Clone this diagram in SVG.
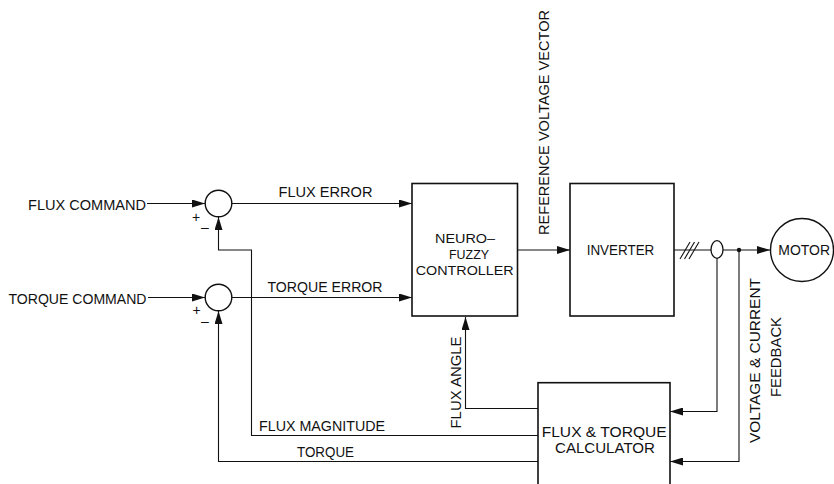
<svg xmlns="http://www.w3.org/2000/svg" width="834" height="484" viewBox="0 0 834 484">
<style>
  text { font-family: "Liberation Sans", Arial, sans-serif; font-size: 15px; fill: #111; }
  .sign { font-size: 14px; text-anchor: middle; }
  .ctl { font-size: 13px; }
  .box { fill: #fff; stroke: #111; stroke-width: 1.6; }
  .sum { fill: #fff; stroke: #111; stroke-width: 1.4; }
  .wire { fill: none; stroke: #111; stroke-width: 1.1; }
  .arr { fill: none; stroke: #111; stroke-width: 1.1; marker-end: url(#ah); }
</style>
<defs>
  <marker id="ah" viewBox="0 0 13 8" refX="13" refY="4" markerWidth="13" markerHeight="8" markerUnits="userSpaceOnUse" orient="auto">
    <path d="M0,0 L13,4 L0,8 Z" fill="#111"/>
  </marker>
</defs>

<rect width="834" height="484" fill="#fff"/>

<g id="connectors">
  <!-- inputs -->
  <line class="arr" x1="147" y1="203.5" x2="205" y2="203.5"/>
  <line class="arr" x1="148" y1="297.5" x2="205" y2="297.5"/>
  <!-- errors -->
  <line class="arr" x1="232" y1="203.5" x2="412" y2="203.5"/>
  <line class="arr" x1="232" y1="297.5" x2="412" y2="297.5"/>
  <!-- reference voltage vector -->
  <line class="arr" x1="517" y1="250" x2="570" y2="250"/>
  <!-- inverter to motor -->
  <line class="wire" x1="674" y1="250" x2="711" y2="250"/>
  <line class="arr" x1="723" y1="250" x2="770" y2="250"/>
  <line class="wire" x1="680" y1="259" x2="690" y2="242"/>
  <line class="wire" x1="684.5" y1="259" x2="694.5" y2="242"/>
  <line class="wire" x1="689" y1="259" x2="699" y2="242"/>
  <ellipse cx="717" cy="249.5" rx="6" ry="8.8" fill="#fff" stroke="#111" stroke-width="1.3"/>
  <circle cx="739" cy="250" r="2.2" fill="#111"/>
  <!-- feedback to calculator -->
  <polyline class="arr" points="717,258.3 717,411.5 670,411.5"/>
  <polyline class="arr" points="739,250 739,461.5 670,461.5"/>
  <!-- flux angle -->
  <polyline class="arr" points="538,408.5 465.5,408.5 465.5,317"/>
  <!-- flux magnitude -->
  <polyline class="arr" points="538,435.5 251.5,435.5 251.5,250 218.5,250 218.5,217"/>
  <!-- torque -->
  <polyline class="arr" points="538,461.5 218.5,461.5 218.5,311"/>
</g>

<g id="flux-sum">
  <circle class="sum" cx="218.5" cy="203.5" r="13.3"/>
  <text class="sign" x="196" y="221.5">+</text>
  <text class="sign" x="205" y="232">–</text>
</g>
<g id="torque-sum">
  <circle class="sum" cx="218.5" cy="297.5" r="13.3"/>
  <text class="sign" x="196.5" y="315">+</text>
  <text class="sign" x="205" y="326">–</text>
</g>

<g id="controller">
  <rect class="box" x="412" y="183.5" width="105.5" height="132.5"/>
  <text class="ctl" x="435" y="242.5" textLength="60" lengthAdjust="spacingAndGlyphs">NEURO–</text>
  <text class="ctl" x="449" y="258.8" textLength="40" lengthAdjust="spacingAndGlyphs">FUZZY</text>
  <text class="ctl" x="415.7" y="275" textLength="98" lengthAdjust="spacingAndGlyphs">CONTROLLER</text>
</g>

<g id="inverter">
  <rect class="box" x="570" y="183.5" width="104" height="132.5"/>
  <text x="586.7" y="255" textLength="67.6" lengthAdjust="spacingAndGlyphs">INVERTER</text>
</g>

<g id="motor">
  <circle class="sum" cx="802" cy="250" r="31.5"/>
  <text x="778.3" y="255" textLength="51.7" lengthAdjust="spacingAndGlyphs">MOTOR</text>
</g>

<g id="calculator">
  <rect class="box" x="538" y="382.7" width="132" height="110"/>
  <text x="541.7" y="436.5" textLength="125" lengthAdjust="spacingAndGlyphs">FLUX &amp; TORQUE</text>
  <text x="555" y="453" textLength="100" lengthAdjust="spacingAndGlyphs">CALCULATOR</text>
</g>

<g id="labels">
  <text x="28" y="210" textLength="118" lengthAdjust="spacingAndGlyphs">FLUX COMMAND</text>
  <text x="8.5" y="304" textLength="138" lengthAdjust="spacingAndGlyphs">TORQUE COMMAND</text>
  <text x="278.5" y="197" textLength="94" lengthAdjust="spacingAndGlyphs">FLUX ERROR</text>
  <text x="267.5" y="291.5" textLength="115" lengthAdjust="spacingAndGlyphs">TORQUE ERROR</text>
  <text transform="translate(548.5,235) rotate(-90)" x="0" y="0" textLength="225" lengthAdjust="spacingAndGlyphs">REFERENCE VOLTAGE VECTOR</text>
  <text transform="translate(759.5,443) rotate(-90)" x="0" y="0" textLength="165" lengthAdjust="spacingAndGlyphs">VOLTAGE &amp; CURRENT</text>
  <text transform="translate(780.5,397) rotate(-90)" x="0" y="0" textLength="80" lengthAdjust="spacingAndGlyphs">FEEDBACK</text>
  <text transform="translate(460.5,428.5) rotate(-90)" x="0" y="0" textLength="92" lengthAdjust="spacingAndGlyphs">FLUX ANGLE</text>
  <text x="259" y="430.5" textLength="126" lengthAdjust="spacingAndGlyphs">FLUX MAGNITUDE</text>
  <text x="297" y="456.5" textLength="57" lengthAdjust="spacingAndGlyphs">TORQUE</text>
</g>
</svg>
